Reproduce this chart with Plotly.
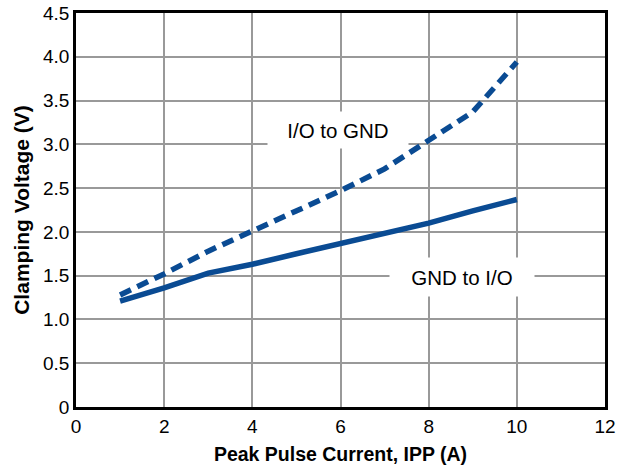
import plotly.graph_objects as go

current = [1, 2, 3, 4, 5, 6, 7, 8, 9, 10]
gnd_to_io = [1.21, 1.36, 1.53, 1.63, 1.75, 1.87, 1.98, 2.10, 2.24, 2.37]
io_to_gnd = [1.28, 1.52, 1.78, 2.01, 2.23, 2.47, 2.72, 3.04, 3.37, 3.94]

x_ticks = [0, 2, 4, 6, 8, 10, 12]
y_ticks = [0, 0.5, 1.0, 1.5, 2.0, 2.5, 3.0, 3.5, 4.0, 4.5]
y_ticktext = ["0", "0.5", "1.0", "1.5", "2.0", "2.5", "3.0", "3.5", "4.0", "4.5"]

color = "#0a4b93"
font = "Liberation Sans, Arial, sans-serif"

fig = go.Figure()
fig.add_trace(go.Scatter(x=current, y=gnd_to_io, mode="lines",
                         line=dict(color=color, width=5.5), name="GND to I/O"))
fig.add_trace(go.Scatter(x=current, y=io_to_gnd, mode="lines",
                         line=dict(color=color, width=5.5, dash="12px,7px"), name="I/O to GND"))

fig.add_annotation(x=5.95, y=3.16, text="I/O to GND", showarrow=False,
                   font=dict(family=font, size=20.5, color="black"),
                   bgcolor="white", borderpad=3, xanchor="center", yanchor="middle",
                   width=134, height=30)
fig.add_annotation(x=8.75, y=1.49, text="GND to I/O", showarrow=False,
                   font=dict(family=font, size=20.5, color="black"),
                   bgcolor="white", borderpad=4, xanchor="center", yanchor="middle",
                   width=136, height=30)

fig.update_layout(
    width=630, height=468,
    margin=dict(l=76, r=25, t=13, b=61, autoexpand=False),
    paper_bgcolor="white", plot_bgcolor="white",
    showlegend=False,
    font=dict(family=font, size=19, color="black"),
)
fig.update_xaxes(range=[0, 12], tickvals=x_ticks, showgrid=True, gridcolor="#999999", gridwidth=2,
                 showline=True, linecolor="black", linewidth=2.5, mirror=True, ticks="",
                 zeroline=False, automargin=False, ticklabeloverflow="allow",
                 title=dict(text="<b>Peak Pulse Current, IPP (A)</b>", font=dict(size=19.5), standoff=12))
fig.update_yaxes(range=[0, 4.5], tickvals=y_ticks, ticktext=y_ticktext, showgrid=True,
                 gridcolor="#999999", gridwidth=2,
                 showline=True, linecolor="black", linewidth=2.5, mirror=True, ticks="",
                 zeroline=False, automargin=False, ticklabeloverflow="allow",
                 title=dict(text="<b>Clamping Voltage (V)</b>", font=dict(size=21), standoff=8))

fig.write_html("out.html", config={"displayModeBar": False},
               post_script="document.body.style.margin='0';")
